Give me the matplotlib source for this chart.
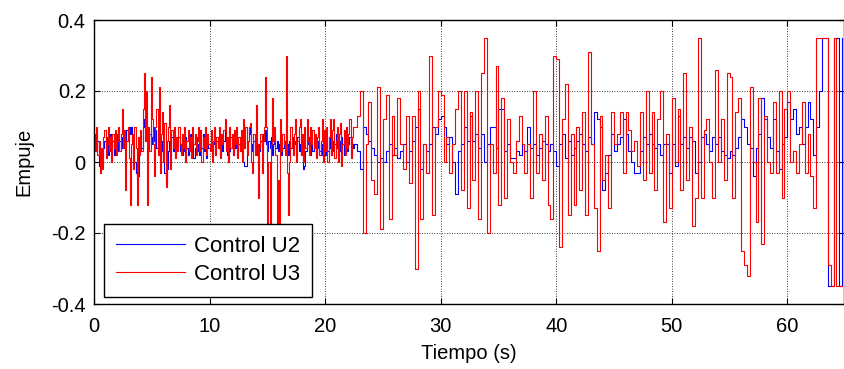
import numpy as np
import matplotlib.pyplot as plt

plt.rcParams['font.family'] = ['Liberation Sans', 'DejaVu Sans']

# the log is finer in the first 22.5 s, coarser afterwards
dt_early = 0.1   # s, 0 - 22.4 s
dt_late = 0.25   # s, 22.5 s - end
t_split = 22.5

# Control U2 (blue), first part, one row = 2.5 s
u2_early = [
    0.05, 0.07, 0.03, 0.06, -0.01, 0.0, -0.02, 0.01, 0.04, 0.06, 0.03, 0.07, 0.02, 0.05, 0.08, 0.04, 0.06, 0.02, 0.07, 0.05, 0.08, 0.03, 0.06, 0.04, 0.07,
    0.05, 0.08, 0.04, 0.09, 0.06, 0.1, 0.08, 0.1, 0.05, 0.02, 0.0, -0.03, -0.05, -0.04, 0.02, 0.06, 0.04, 0.1, 0.12, 0.11, 0.07, 0.1, 0.06, 0.08, 0.05,
    0.07, 0.1, 0.06, 0.09, 0.04, 0.08, 0.05, 0.02, 0.06, 0.03, 0.0, -0.03, -0.06, -0.02, 0.03, 0.06, 0.04, 0.07, 0.03, 0.05, 0.02, 0.06, 0.04, 0.07, 0.03,
    0.05, 0.02, 0.06, 0.03, 0.07, 0.04, 0.02, 0.05, 0.08, 0.03, 0.06, 0.01, 0.04, 0.07, 0.03, 0.05, 0.02, 0.06, 0.04, 0.08, 0.03, 0.05, 0.01, 0.06, 0.04,
    0.04, 0.06, 0.02, 0.05, 0.08, 0.03, 0.06, 0.04, 0.07, 0.02, 0.05, 0.03, 0.06, 0.09, 0.04, 0.02, 0.06, 0.03, 0.07, 0.05, 0.02, 0.06, 0.04, 0.07, 0.03,
    0.05, 0.03, 0.06, 0.02, 0.0, -0.01, -0.01, 0.03, 0.06, 0.1, 0.08, 0.05, 0.03, 0.06, 0.04, 0.07, 0.02, 0.05, 0.03, 0.06, 0.04, 0.08, 0.06, 0.09, 0.05,
    0.03, 0.06, 0.04, 0.07, 0.02, 0.05, 0.08, 0.04, 0.06, 0.03, 0.05, 0.07, 0.02, 0.04, 0.06, 0.03, 0.07, 0.05, 0.02, 0.06, 0.04, 0.07, 0.03, 0.05, 0.06,
    0.04, 0.07, 0.03, 0.05, 0.02, 0.06, -0.02, -0.01, 0.03, 0.05, 0.07, 0.04, 0.02, 0.06, 0.03, 0.05, 0.07, 0.02, 0.04, 0.06, 0.03, 0.05, 0.02, 0.06, 0.04,
    0.02, 0.05, 0.03, 0.07, 0.04, 0.02, 0.06, 0.03, 0.05, 0.08, 0.04, 0.02, 0.06, 0.03, 0.07, 0.05, 0.02, 0.04, 0.06, 0.03, 0.05, 0.07, 0.02, 0.05, 0.04,
]

# Control U2, second part, one row = 5 s (first row 2.5 s)
u2_late = [
    0.05, 0.03, -0.02, 0.1, 0.08, 0.06, 0.04, 0.02, 0.0, 0.01,
    0.0, 0.03, 0.05, 0.02, 0.04, 0.01, 0.03, 0.05, 0.0, 0.03, 0.06, 0.1, 0.15, -0.02, 0.05, 0.03, 0.05, 0.1, 0.08, 0.12,
    0.13, 0.1, 0.05, 0.07, 0.0, -0.09, 0.03, 0.05, 0.1, 0.06, 0.13, 0.06, 0.08, 0.04, 0.08, 0.0, 0.05, 0.1, 0.1, 0.04,
    0.15, 0.15, 0.03, 0.05, 0.01, 0.01, 0.03, 0.02, 0.05, 0.03, 0.1, 0.04, 0.05, 0.02, 0.04, 0.06, 0.05, 0.03, 0.05, 0.03,
    -0.01, 0.05, 0.08, 0.01, 0.06, 0.02, 0.04, 0.06, 0.08, 0.05, 0.03, 0.07, 0.05, 0.14, 0.12, 0.1, -0.08, -0.03, 0.02, 0.08,
    0.03, 0.05, 0.07, 0.12, 0.08, 0.03, 0.0, -0.03, -0.03, 0.03, 0.07, 0.05, 0.08, 0.05, 0.04, 0.05, 0.02, 0.05, 0.05, -0.03,
    0.05, -0.01, 0.13, 0.05, 0.07, 0.04, 0.07, 0.06, -0.03, 0.0, 0.07, 0.08, 0.05, 0.03, 0.07, 0.05, 0.07, 0.03, 0.02, 0.01,
    0.03, 0.02, 0.04, 0.07, 0.12, 0.1, 0.05, 0.04, -0.04, 0.04, 0.08, 0.18, 0.12, 0.07, 0.04, 0.12, 0.03, -0.02, 0.05, 0.07,
    0.17, 0.12, 0.15, 0.08, 0.1, 0.05, 0.1, 0.17, 0.12, 0.02, 0.1, 0.2, 0.35, 0.35, -0.35, -0.35, 0.35, 0.35, -0.35, 0.35,
]

# Control U3 (red), first part
u3_early = [
    0.08, 0.03, 0.1, 0.02, 0.06, -0.03, 0.04, -0.02, 0.07, 0.09, 0.01, 0.05, 0.1, 0.03, 0.07, 0.0, 0.08, 0.04, 0.09, 0.02, 0.06, 0.1, 0.03, 0.08, 0.15,
    0.04, 0.09, -0.08, 0.06, 0.1, 0.01, -0.12, 0.05, 0.08, -0.02, 0.1, 0.04, -0.12, 0.07, 0.02, 0.09, 0.03, 0.15, 0.25, 0.06, 0.2, -0.12, 0.1, 0.03, 0.24,
    0.12, 0.05, -0.04, 0.1, 0.15, 0.02, 0.21, -0.03, 0.08, 0.14, 0.0, 0.11, -0.07, 0.06, 0.1, 0.16, -0.02, 0.09, 0.04, 0.1, 0.01, 0.07, 0.03, 0.1, 0.05,
    0.02, 0.08, 0.04, 0.1, 0.0, 0.06, 0.09, 0.03, 0.07, 0.01, 0.1, 0.05, 0.08, 0.02, 0.06, 0.1, 0.03, 0.09, 0.0, 0.07, 0.04, 0.1, 0.02, 0.08, 0.05,
    0.03, 0.09, 0.0, 0.06, 0.1, 0.02, 0.07, 0.04, 0.1, 0.01, 0.08, 0.05, 0.09, 0.12, 0.03, 0.07, 0.0, 0.1, 0.04, 0.08, 0.02, 0.09, 0.05, 0.1, 0.01,
    0.07, 0.03, 0.09, 0.0, 0.12, 0.04, 0.1, 0.02, 0.06, 0.1, 0.11, 0.0, -0.03, 0.08, 0.02, 0.16, 0.05, -0.1, 0.04, 0.08, -0.03, 0.06, 0.1, 0.24, 0.1,
    -0.19, 0.0, -0.22, 0.05, 0.18, 0.06, 0.1, 0.02, -0.22, -0.05, -0.2, 0.12, 0.03, 0.08, 0.05, 0.02, 0.3, -0.03, -0.15, 0.0, 0.1, 0.04, 0.02, 0.08, 0.12,
    0.0, 0.06, 0.1, 0.12, 0.02, 0.08, 0.0, 0.1, 0.04, 0.12, 0.06, 0.02, 0.1, 0.05, 0.09, 0.04, 0.08, 0.01, 0.07, 0.1, 0.02, 0.06, 0.12, 0.0, 0.09,
    0.03, 0.1, 0.0, 0.07, 0.12, 0.02, 0.09, 0.12, 0.01, 0.06, 0.1, 0.0, 0.08, 0.11, -0.01, 0.05, 0.09, 0.02, 0.1, 0.04, 0.08, 0.12, 0.01, 0.07, 0.1,
]

# Control U3, second part
u3_late = [
    0.1, 0.13, 0.2, -0.2, 0.05, 0.17, -0.05, -0.09, 0.21, -0.19,
    0.12, 0.19, -0.16, 0.13, 0.02, 0.18, 0.05, -0.02, 0.13, -0.06, 0.13, -0.3, 0.2, -0.16, 0.05, -0.03, 0.3, -0.15, 0.1, 0.2,
    0.19, 0.0, 0.07, -0.03, 0.05, 0.15, 0.2, -0.08, 0.2, -0.13, 0.14, -0.05, 0.2, -0.16, 0.25, 0.35, -0.2, 0.05, -0.03, 0.27,
    -0.12, 0.18, -0.1, 0.12, 0.0, -0.03, 0.06, 0.13, 0.05, -0.03, 0.05, -0.1, 0.2, -0.03, 0.08, -0.05, 0.13, -0.12, -0.16, 0.3,
    0.29, -0.24, 0.12, 0.22, -0.15, 0.08, -0.12, 0.1, -0.08, 0.14, -0.15, 0.31, 0.05, -0.13, -0.25, 0.13, -0.05, 0.02, -0.13, 0.14,
    0.05, 0.08, 0.14, -0.03, 0.14, 0.09, 0.03, 0.06, -0.01, 0.14, -0.05, 0.2, -0.03, 0.14, -0.08, 0.12, 0.2, -0.17, 0.08, -0.13,
    0.18, 0.0, 0.15, -0.08, 0.25, -0.05, 0.1, -0.18, -0.1, 0.35, -0.1, 0.09, 0.12, 0.0, -0.1, 0.26, 0.0, 0.12, -0.05, 0.25,
    0.24, -0.1, 0.14, 0.18, -0.25, -0.29, -0.32, 0.21, 0.0, -0.17, 0.18, -0.23, 0.13, 0.0, -0.03, 0.17, -0.03, 0.2, -0.1, 0.15,
    0.2, 0.0, 0.03, -0.03, 0.05, 0.17, -0.03, 0.08, -0.04, -0.13, 0.35, 0.35, 0.35, 0.35, -0.29, -0.35, 0.35, -0.35, -0.35, -0.35,
]

xticks = [0, 10, 20, 30, 40, 50, 60]
yticks = [-0.4, -0.2, 0, 0.2, 0.4]
ytick_labels = ['-0.4', '-0.2', '0', '0.2', '0.4']

t = np.concatenate([np.arange(len(u2_early)) * dt_early,
                    t_split + np.arange(len(u2_late)) * dt_late])
u2 = u2_early + u2_late
u3 = u3_early + u3_late

fig = plt.figure(figsize=(8.45, 3.69), dpi=100)
ax = fig.add_axes([94 / 845, 65 / 369, 750 / 845, 284 / 369])

ax.step(t, u2, where='post', color=(0, 0, 1), lw=0.8, label='Control U2')
ax.step(t, u3, where='post', color=(1, 0, 0), lw=0.8, label='Control U3')

ax.set_xlim(0, 64.9)
ax.set_ylim(-0.4, 0.4)
ax.set_xticks(xticks)
ax.set_yticks(yticks)
ax.set_yticklabels(ytick_labels)
ax.tick_params(direction='in', top=True, right=True, length=4, labelsize=14.5)
ax.tick_params(axis='x', pad=9)
ax.tick_params(axis='y', pad=6)
ax.grid(True, color='k', linestyle=(0, (1, 2)), lw=0.6)
for s in ax.spines.values():
    s.set_linewidth(1.0)

ax.set_xlabel('Tiempo (s)', fontsize=14.5, labelpad=6)
ax.set_ylabel('Empuje', fontsize=14.5, labelpad=13)

leg = ax.legend(loc='lower left', bbox_to_anchor=(0.0133, 0.0246), borderaxespad=0,
                fontsize=16, fancybox=False, framealpha=1, edgecolor='k',
                handlelength=3.1, handletextpad=0.4, labelspacing=0.3,
                borderpad=0.55)
leg.get_frame().set_linewidth(1.0)

fig.savefig('out.png', dpi=100)
